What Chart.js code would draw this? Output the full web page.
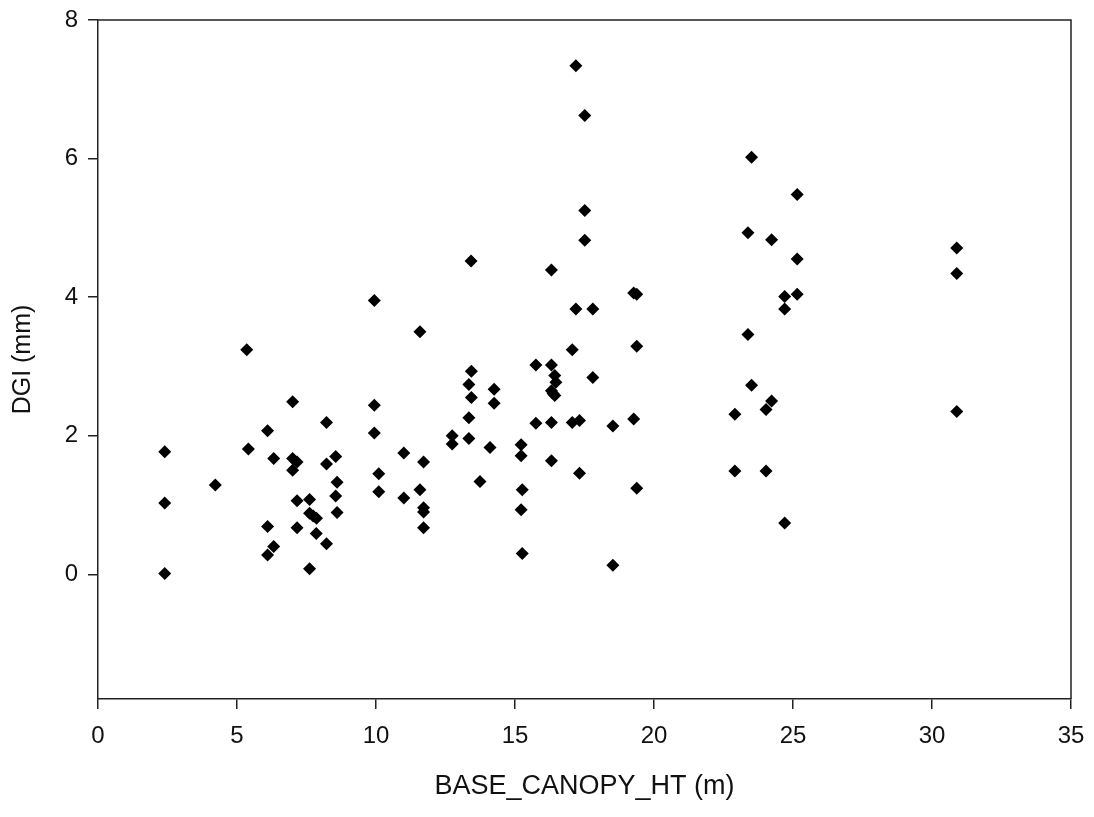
<!DOCTYPE html>
<html>
<head>
<meta charset="utf-8">
<script src="https://cdn.jsdelivr.net/npm/chart.js@4"></script>
<style>
  html, body { margin: 0; padding: 0; background: #fff; }
  canvas { display: block; }
</style>
</head>
<body>
<canvas id="dgi-chart" width="1094" height="817"></canvas>
<script>
// readings, grouped roughly by x
let canopyHeight = [
    2.4, 2.4, 2.4, 4.22, 5.35, 5.41,
    6.1, 6.1, 6.1, 6.32, 6.32,
    7.0, 7.0, 7.0, 7.16, 7.16, 7.16,
    7.61, 7.61, 7.61, 7.74, 7.85, 7.86,
    8.22, 8.22, 8.22, 8.55, 8.55, 8.6, 8.6,
    9.94, 9.94, 9.94, 10.1, 10.1, 11.0, 11.0,
    11.58, 11.58, 11.71, 11.71, 11.71, 11.71,
    12.74, 12.74, 13.42, 13.43, 13.34, 13.43, 13.34, 13.34,
    13.74, 14.1, 14.25, 14.25,
    15.22, 15.22, 15.26, 15.22, 15.26,
    15.75, 15.75,
    16.31, 16.31, 16.43, 16.47, 16.31, 16.37, 16.43, 16.31, 16.31,
    17.06, 17.06, 17.19, 17.19, 17.32, 17.32,
    17.51, 17.51, 17.51, 17.8, 17.8,
    18.52, 18.52,
    19.27, 19.27, 19.38, 19.38, 19.38,
    22.91, 22.91, 23.38, 23.38, 23.51, 23.51,
    24.03, 24.03, 24.23, 24.23,
    24.7, 24.7, 24.7, 25.15, 25.15, 25.15,
    30.89, 30.89, 30.89
];
let dgi = [
    1.77, 1.03, 0.01, 1.29, 3.24, 1.81,
    2.07, 0.69, 0.28, 1.67, 0.4,
    2.49, 1.67, 1.5, 1.62, 1.06, 0.67,
    1.08, 0.88, 0.08, 0.84, 0.59, 0.81,
    2.19, 1.59, 0.44, 1.7, 1.13, 1.33, 0.89,
    3.95, 2.44, 2.04, 1.45, 1.19, 1.75, 1.1,
    3.5, 1.22, 1.62, 0.96, 0.9, 0.67,
    2.0, 1.88, 4.52, 2.93, 2.74, 2.55, 2.26, 1.96,
    1.34, 1.83, 2.67, 2.47,
    1.87, 1.71, 1.22, 0.93, 0.3,
    3.02, 2.18,
    4.39, 3.02, 2.87, 2.77, 2.65, 2.61, 2.58, 2.19, 1.64,
    3.24, 2.19, 7.34, 3.83, 2.22, 1.46,
    6.62, 5.25, 4.82, 3.83, 2.84,
    2.14, 0.13,
    4.06, 2.24, 4.04, 3.29, 1.24,
    2.31, 1.49, 4.93, 3.46, 6.02, 2.73,
    2.38, 1.49, 4.83, 2.5,
    4.01, 3.83, 0.74, 5.48, 4.55, 4.04,
    4.71, 4.34, 2.35
];
let xTicks = [0, 5, 10, 15, 20, 25, 30, 35];
let yTicks = [0, 2, 4, 6, 8];

let points = canopyHeight.map((x, i) => ({ x: x, y: dgi[i] }));

// top and right edges of the frame
let frameBox = {
    id: "frameBox",
    afterDraw(chart) {
        let a = chart.chartArea;
        let ctx = chart.ctx;
        ctx.save();
        ctx.strokeStyle = "#222";
        ctx.lineWidth = 1.5;
        ctx.beginPath();
        ctx.moveTo(a.left, a.top);
        ctx.lineTo(a.right, a.top);
        ctx.lineTo(a.right, a.bottom);
        ctx.stroke();
        ctx.restore();
    },
};

let ctx = document.getElementById("dgi-chart").getContext("2d");

let dgiChart = new Chart(ctx, {
    type: "scatter",
    data: {
        datasets: [{
            label: "DGI",
            data: points,
            pointStyle: "rectRot",
            pointRadius: 6.5,
            pointHoverRadius: 6.5,
            backgroundColor: "#000",
            borderColor: "#000",
            borderWidth: 0,
        }],
    },
    options: {
        responsive: false,
        animation: false,
        layout: {
            padding: { top: 20, right: 23, left: 0, bottom: 0 },
        },
        plugins: {
            legend: { display: false },
            tooltip: { enabled: false },
        },
        scales: {
            x: {
                type: "linear",
                min: 0,
                max: 35,
                afterBuildTicks: (scale) => {
                    scale.ticks = xTicks.map(v => ({ value: v }));
                },
                afterFit: (scale) => {
                    scale.height = 118;
                    scale.paddingLeft = 0;
                    scale.paddingRight = 0;
                },
                grid: {
                    drawOnChartArea: false,
                    drawTicks: true,
                    tickLength: 10,
                    color: "#222",
                    lineWidth: 1.5,
                },
                border: { color: "#222", width: 1.5 },
                ticks: {
                    color: "#111",
                    padding: 13,
                    maxRotation: 0,
                    font: { family: "Liberation Sans", size: 24 },
                },
                title: {
                    display: true,
                    text: "BASE_CANOPY_HT (m)",
                    color: "#111",
                    font: { family: "Liberation Sans", size: 27 },
                    padding: { top: 0, bottom: 14 },
                },
            },
            y: {
                type: "linear",
                min: -1.8,
                max: 8,
                afterBuildTicks: (scale) => {
                    scale.ticks = yTicks.map(v => ({ value: v }));
                },
                afterFit: (scale) => {
                    scale.width = 98;
                    scale.paddingTop = 0;
                    scale.paddingBottom = 0;
                },
                grid: {
                    drawOnChartArea: false,
                    drawTicks: true,
                    tickLength: 10,
                    color: "#222",
                    lineWidth: 1.5,
                },
                border: { color: "#222", width: 1.5 },
                ticks: {
                    color: "#111",
                    padding: 10,
                    font: { family: "Liberation Sans", size: 24 },
                },
                title: {
                    display: true,
                    text: "DGI (mm)",
                    color: "#111",
                    font: { family: "Liberation Sans", size: 25 },
                    padding: { top: 8, bottom: 0 },
                },
            },
        },
    },
    plugins: [frameBox],
});
</script>
</body>
</html>
